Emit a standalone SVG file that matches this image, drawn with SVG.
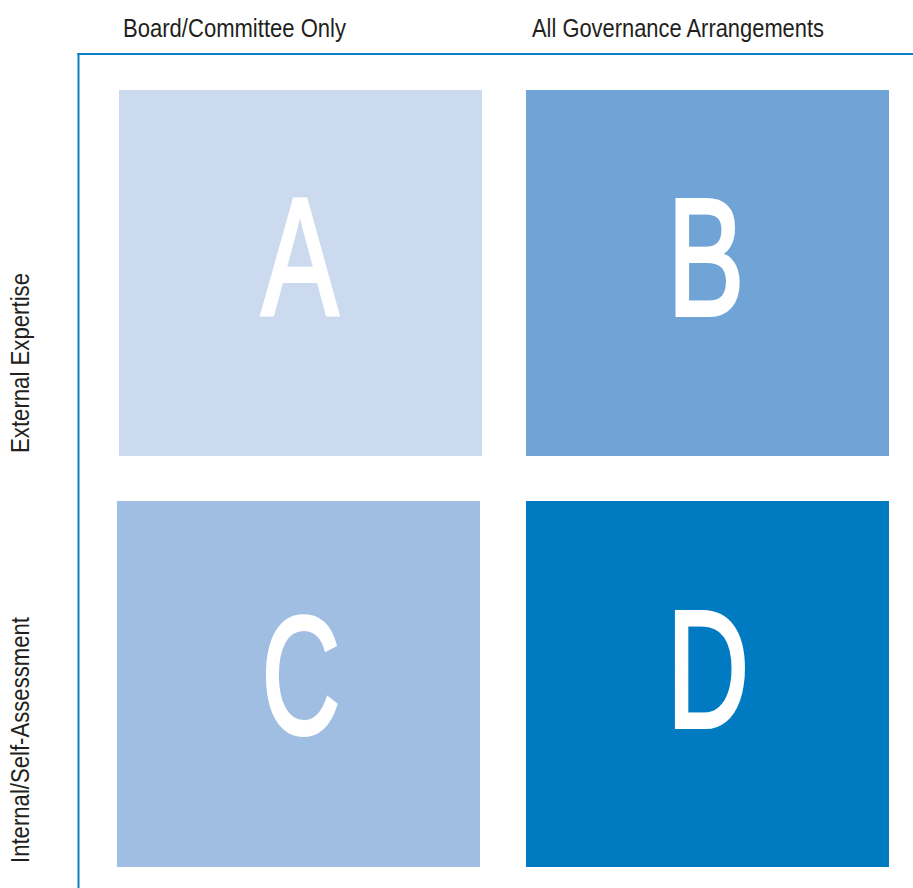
<svg xmlns="http://www.w3.org/2000/svg" width="913" height="888" viewBox="0 0 913 888">
  <style>
    .axis { stroke: #0f7dc6; stroke-width: 2; fill: none; }
    .label { font-family: "Liberation Sans", Arial, sans-serif; font-size: 25px; fill: #231f20; }
    .letter { font-family: "Liberation Sans", Arial, sans-serif; font-size: 167px; fill: #ffffff; stroke: #ffffff; stroke-width: 4; stroke-linejoin: miter; text-anchor: middle; }
  </style>
  <rect width="913" height="888" fill="#ffffff"/>

  <!-- axis frame -->
  <g id="axes">
    <line class="axis" x1="78.5" y1="53" x2="78.5" y2="888"/>
    <line class="axis" x1="77.5" y1="54" x2="913" y2="54"/>
  </g>

  <!-- column headings -->
  <g id="col-labels">
    <text class="label" x="123" y="36.5" textLength="223" lengthAdjust="spacingAndGlyphs">Board/Committee Only</text>
    <text class="label" x="532" y="36.5" textLength="292" lengthAdjust="spacingAndGlyphs">All Governance Arrangements</text>
  </g>

  <!-- row headings -->
  <g id="row-labels">
    <text class="label" transform="translate(29,453) rotate(-90)" x="0" y="0" textLength="180" lengthAdjust="spacingAndGlyphs">External Expertise</text>
    <text class="label" transform="translate(29,863) rotate(-90)" x="0" y="0" textLength="246" lengthAdjust="spacingAndGlyphs">Internal/Self-Assessment</text>
  </g>

  <!-- quadrants -->
  <g id="node-a">
    <rect x="119" y="90" width="363" height="366" fill="#cbdaef"/>
    <text class="letter" transform="translate(300,315) scale(0.69,1)">A</text>
  </g>
  <g id="node-b">
    <rect x="526" y="90" width="363" height="366" fill="#70a4d6"/>
    <text class="letter" transform="translate(706,315) scale(0.69,1)">B</text>
  </g>
  <g id="node-c">
    <rect x="117" y="501" width="363" height="366" fill="#a0bde2"/>
    <text class="letter" transform="translate(301,733) scale(0.65,1)">C</text>
  </g>
  <g id="node-d">
    <rect x="526" y="501" width="363" height="366" fill="#007bc2"/>
    <text class="letter" transform="translate(708,727) scale(0.68,1)">D</text>
  </g>
</svg>
